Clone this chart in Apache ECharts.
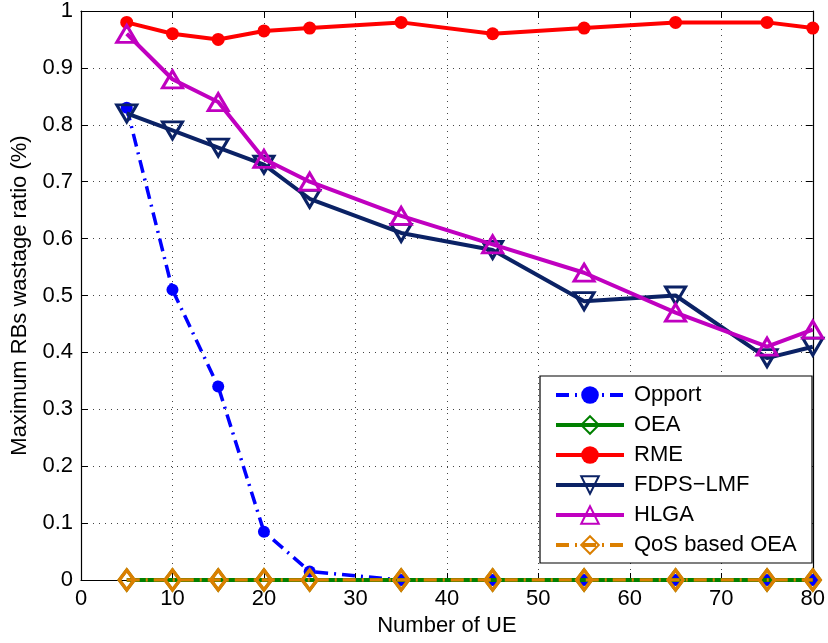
<!DOCTYPE html>
<html>
<head>
<meta charset="utf-8">
<script src="https://cdn.jsdelivr.net/npm/echarts@6/dist/echarts.min.js"></script>
<style>
  html, body { margin: 0; padding: 0; background: #fff; }
  #chart { width: 828px; height: 643px; }
</style>
</head>
<body>
<div id="chart"></div>
<script>
// Number of UE on the x axis
const ueCounts = [5, 10, 15, 20, 25, 35, 45, 55, 65, 75, 80];

// Maximum RBs wastage ratio per scheme
const opport   = [0.83, 0.51, 0.34, 0.085, 0.015, 0, 0, 0, 0, 0, 0];
const oea      = [0, 0, 0, 0, 0, 0, 0, 0, 0, 0, 0];
const rme      = [0.98, 0.96, 0.95, 0.965, 0.97, 0.98, 0.96, 0.97, 0.98, 0.98, 0.97];
const fdpsLmf  = [0.82, 0.79, 0.76, 0.73, 0.67, 0.61, 0.58, 0.49, 0.50, 0.39, 0.41];
const hlga     = [0.96, 0.88, 0.84, 0.74, 0.70, 0.64, 0.59, 0.54, 0.47, 0.41, 0.44];
const qosOea   = [0, 0, 0, 0, 0, 0, 0, 0, 0, 0, 0];

const seriesNames = ['Opport', 'OEA', 'RME', 'FDPS\u2212LMF', 'HLGA', 'QoS based OEA'];

const FONT = '"Liberation Sans", Arial, Helvetica, sans-serif';

function pairs(values) {
  return ueCounts.map((x, i) => [x, values[i]]);
}

const chart = echarts.init(document.getElementById('chart'), null, { renderer: 'canvas' });

const axisCommon = {
  axisLine: { show: true, onZero: false, lineStyle: { color: '#000', width: 1.2 } },
  axisTick: { show: true, inside: true, length: 7, lineStyle: { color: '#000', width: 1 } },
  splitLine: { show: false }
};

const gridDots = { show: true, lineStyle: { color: '#444', type: [1, 5], width: 1 } };

const option = {
  animation: false,
  backgroundColor: '#fff',
  grid: { left: 81, right: 11, top: 10, bottom: 63, containLabel: false },
  xAxis: [
    Object.assign({}, axisCommon, {
      type: 'value', min: 0, max: 80, interval: 10, position: 'bottom',
      axisLabel: { color: '#000', fontFamily: FONT, fontSize: 22, margin: 8 },
      splitLine: gridDots,
      name: 'Number of UE', nameLocation: 'middle', nameGap: 33,
      nameTextStyle: { color: '#000', fontFamily: FONT, fontSize: 22 }
    }),
    Object.assign({}, axisCommon, {
      type: 'value', min: 0, max: 80, interval: 10, position: 'top',
      axisLabel: { show: false }
    })
  ],
  yAxis: [
    Object.assign({}, axisCommon, {
      type: 'value', min: 0, max: 1, interval: 0.1, position: 'left',
      axisLabel: { color: '#000', fontFamily: FONT, fontSize: 22, margin: 8 },
      splitLine: gridDots,
      name: 'Maximum RBs wastage ratio (%)', nameLocation: 'middle', nameGap: 50,
      nameTextStyle: { color: '#000', fontFamily: FONT, fontSize: 22 }
    }),
    Object.assign({}, axisCommon, {
      type: 'value', min: 0, max: 1, interval: 0.1, position: 'right',
      axisLabel: { show: false }
    })
  ],
  legend: {
    orient: 'vertical',
    left: 540, top: 376,
    padding: [8, 3, 7, 14],
    backgroundColor: '#fff',
    borderColor: '#000', borderWidth: 1.2,
    itemWidth: 68, itemHeight: 22, itemGap: 8,
    lineStyle: { width: 4 },
    textStyle: {
      color: '#000', fontFamily: FONT, fontSize: 22, lineHeight: 22,
      width: 175, padding: [0, 0, 0, 5]
    },
    data: seriesNames
  },
  series: [
    {
      name: seriesNames[0], type: 'line', data: pairs(opport), z: 2,
      lineStyle: { color: '#0000ff', width: 3.5, type: [13, 6, 2, 6] },
      symbol: 'circle', symbolSize: 12,
      itemStyle: { color: '#0000ff' }
    },
    {
      name: seriesNames[1], type: 'line', data: pairs(oea), z: 3,
      lineStyle: { color: '#008000', width: 4 },
      symbol: 'diamond', symbolSize: [15, 20],
      itemStyle: { color: 'rgba(255,255,255,0)', borderColor: '#008000', borderWidth: 3 }
    },
    {
      name: seriesNames[2], type: 'line', data: pairs(rme), z: 4,
      lineStyle: { color: '#ff0000', width: 4 },
      symbol: 'circle', symbolSize: 13,
      itemStyle: { color: '#ff0000' }
    },
    {
      name: seriesNames[3], type: 'line', data: pairs(fdpsLmf), z: 5,
      lineStyle: { color: '#0b2265', width: 4 },
      symbol: 'triangle', symbolRotate: 180, symbolSize: [20, 17],
      itemStyle: { color: 'rgba(255,255,255,0)', borderColor: '#0b2265', borderWidth: 3 }
    },
    {
      name: seriesNames[4], type: 'line', data: pairs(hlga), z: 6,
      lineStyle: { color: '#c000c0', width: 4 },
      symbol: 'triangle', symbolSize: [20, 17],
      itemStyle: { color: 'rgba(255,255,255,0)', borderColor: '#c000c0', borderWidth: 3 }
    },
    {
      name: seriesNames[5], type: 'line', data: pairs(qosOea), z: 7,
      lineStyle: { color: '#db7f00', width: 3.5, type: [13, 6, 2, 6] },
      symbol: 'diamond', symbolSize: [15, 20],
      itemStyle: { color: 'rgba(255,255,255,0)', borderColor: '#db7f00', borderWidth: 3.5 }
    }
  ]
};

chart.setOption(option);
</script>
</body>
</html>
